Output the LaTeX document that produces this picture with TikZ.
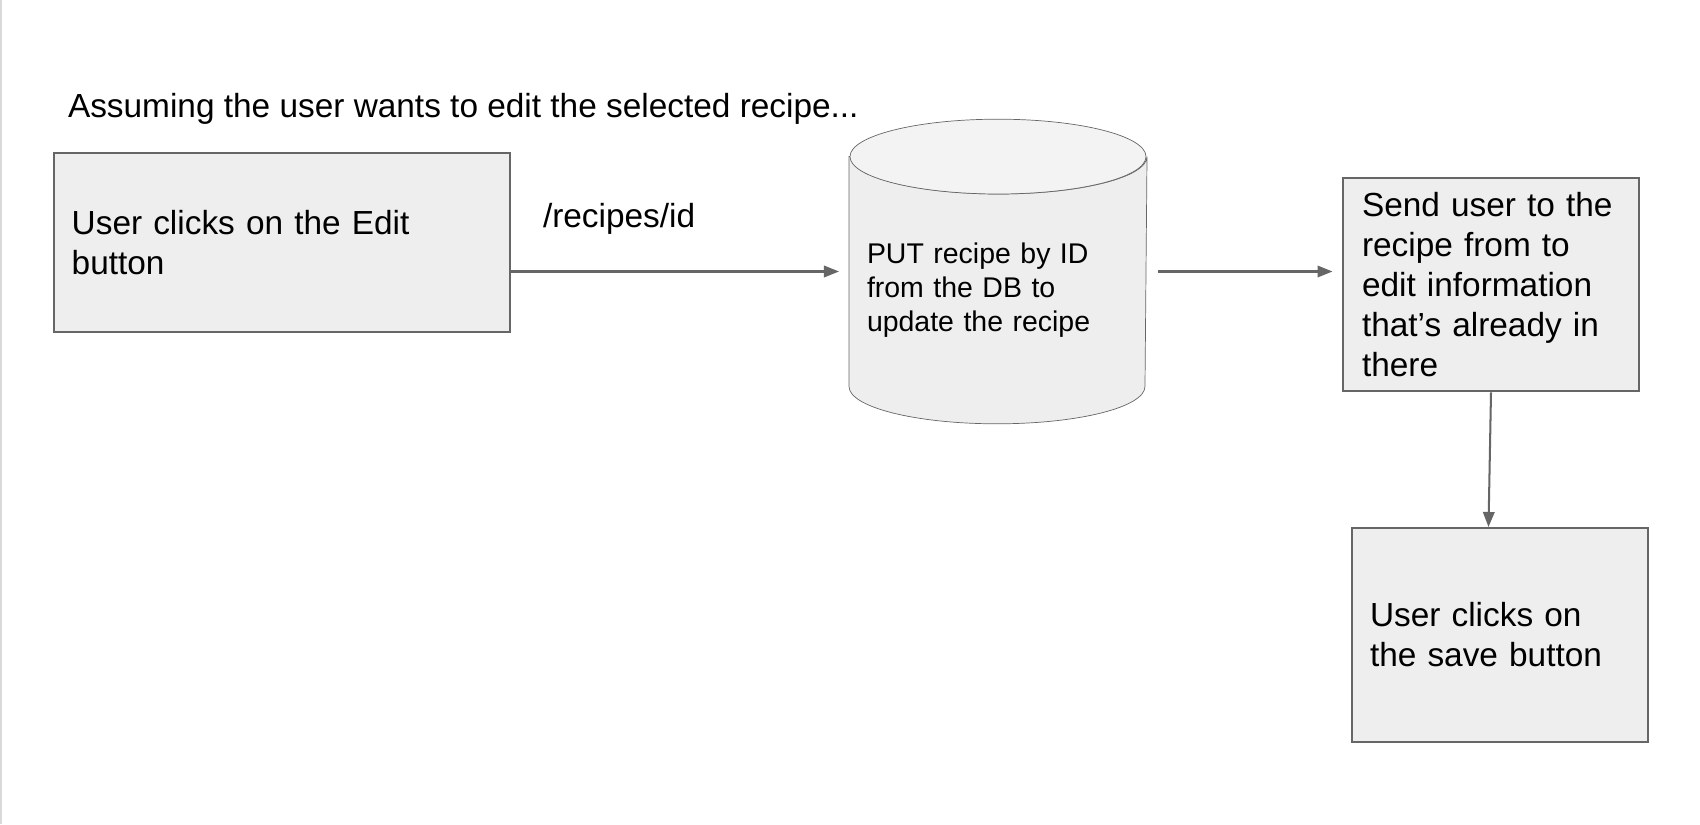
\documentclass[tikz,border=0pt]{standalone}
\usepackage{fontspec}
\setmainfont{Liberation Sans}
\usetikzlibrary{arrows.meta,backgrounds}
\definecolor{boxfill}{HTML}{EEEEEE}
\definecolor{topfill}{HTML}{F3F3F3}
\definecolor{edge}{HTML}{666666}
\definecolor{frame}{HTML}{D9D9D9}

\begin{document}
\begin{tikzpicture}[line width=1.15pt, >={Triangle[length=0.3cm,width=0.23cm]},
    main/.style = {draw=edge, fill=boxfill, rectangle, align=left, inner ysep=0.1cm, minimum width=5.92cm, minimum height=4.272cm, font=\fontsize{19pt}{22.7pt}\selectfont},
    db/.style = {rectangle, align=left, inner ysep=0pt, inner xsep=0.34cm, text width=5.24cm, minimum height=3.808cm, font=\fontsize{16.2pt}{19.3pt}\selectfont},
    txt/.style = {inner sep=0pt, anchor=base west, font=\fontsize{19pt}{22.7pt}\selectfont},
    link/.style = {draw=edge, ->}]
    \useasboundingbox (0,0) rectangle (34,-16.48);
    \fill[frame] (0,0) rectangle (0.035,-16.48);

    % nodi del diagramma
    \node[txt] (0) at (1.34,-2.34) {Assuming the user wants to edit the selected recipe...};
    \node[main, minimum width=9.108cm, minimum height=3.578cm, inner xsep=0.35cm, text width=8.408cm] (1) at (5.638,-4.847) {User clicks on the Edit\\button};
    \node[db] (2) at (19.96,-5.804) {PUT recipe by ID\\from the DB to\\update the recipe};
    \node[main, inner xsep=0.38cm, text width=5.16cm] (3) at (29.82,-5.692) {Send user to the\\recipe from to\\edit information\\that’s already in\\there};
    \node[main, inner xsep=0.36cm, text width=5.2cm] (4) at (30.0,-12.696) {User clicks on\\the save button};
    \node[txt] (5) at (10.84,-4.54) {/recipes/id};
    \coordinate (m) at ([yshift=0.374cm]2.center);

    % cilindro del DB
    \begin{scope}[on background layer, line width=1.15pt]
    \filldraw[draw=edge, fill=boxfill] ([yshift=0.748cm]2.north west) -- (2.south west) arc[start angle=180, end angle=360, x radius=2.96cm, y radius=0.748cm] -- ([yshift=0.748cm]2.north east) arc[start angle=0, end angle=-180, x radius=2.96cm, y radius=0.748cm] -- cycle;
    \filldraw[draw=edge, fill=topfill] ([yshift=0.748cm]2.north) ellipse [x radius=2.96cm, y radius=0.748cm];
    \end{scope}

    \draw[link, shorten >=0.2cm] (1.east |- m) -- (2.west |- m);
    \draw[link, shorten <=0.22cm, shorten >=0.19cm] (2.east |- m) -- (3.west |- m);
    \draw[link] (3.south) -- ([xshift=-0.05cm]3.south |- 4.north);

\end{tikzpicture}
\end{document}
